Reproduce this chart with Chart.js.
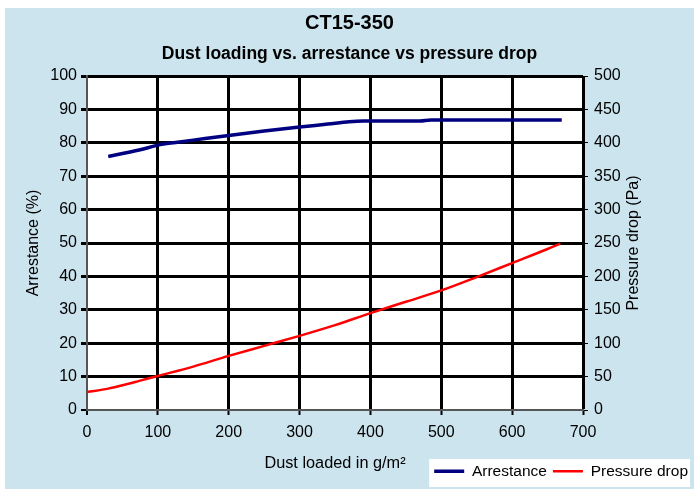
<!DOCTYPE html>
<html><head><meta charset="utf-8">
<script src="https://cdn.jsdelivr.net/npm/chart.js@4.4.1/dist/chart.umd.min.js"></script>
<style>html,body{margin:0;padding:0;background:#fff;}canvas{display:block;}</style>
</head><body>
<canvas id="c" width="694" height="489"></canvas>
<script>
// ---- data ----
const dustArrestance = [30, 50, 75, 100, 125, 150, 200, 250, 300, 340, 370, 390, 470, 485, 670];
const arrestance     = [75.9, 76.8, 77.9, 79.3, 80.1, 80.8, 82.2, 83.5, 84.7, 85.6, 86.3, 86.5, 86.5, 86.8, 86.8];
const dustPressure   = [0, 30, 50, 75, 100, 150, 200, 250, 300, 350, 400, 450, 500, 550, 600, 650, 668];
const pressureDrop   = [27, 32, 37, 44, 51, 65, 81, 96, 111, 127, 145, 162, 179, 199, 220, 241, 249];
const seriesNames    = ['Arrestance', 'Pressure drop'];
const chartTitle     = 'CT15-350';
const chartSubtitle  = 'Dust loading vs. arrestance vs pressure drop';
const xTitle         = 'Dust loaded in g/m\u00B2';
const yTitle         = 'Arrestance (%)';
const y1Title        = 'Pressure drop (Pa)';

const FONT = '"Liberation Sans", Arial, sans-serif';

const bgPlugin = {
  id: 'bg',
  beforeDraw(chart) {
    const ctx = chart.ctx, a = chart.chartArea;
    ctx.save();
    ctx.fillStyle = '#ffffff'; ctx.fillRect(0, 0, chart.width, chart.height);
    ctx.fillStyle = '#CCE4EE'; ctx.fillRect(5, 8, chart.width - 5, chart.height - 8);
    ctx.fillStyle = '#ffffff'; ctx.fillRect(a.left, a.top, a.right - a.left, a.bottom - a.top);
    const lg = chart.legend;
    if (lg && lg.legendHitBoxes && lg.legendHitBoxes.length) {
      const hb = lg.legendHitBoxes;
      const l = hb[0].left - 5;
      const r = hb[hb.length - 1].left + hb[hb.length - 1].width + 2;
      ctx.fillRect(l, lg.top + 1.5, r - l, 28);
    }
    ctx.restore();
  },
  afterDraw(chart) {
    const ctx = chart.ctx, a = chart.chartArea;
    ctx.save();
    ctx.translate(634, (a.top + a.bottom) / 2);
    ctx.rotate(-Math.PI / 2);
    ctx.font = '16px ' + FONT;
    ctx.fillStyle = '#000';
    ctx.textAlign = 'center';
    ctx.textBaseline = 'middle';
    ctx.fillText(y1Title, 0, 0);
    ctx.restore();
  }
};

new Chart(document.getElementById('c'), {
  type: 'line',
  data: {
    datasets: [
      {
        label: seriesNames[0],
        data: dustArrestance.map((x, i) => ({x: x, y: arrestance[i]})),
        yAxisID: 'y',
        borderColor: '#000080',
        backgroundColor: '#000080',
        borderWidth: 3.5,
        pointRadius: 0,
        tension: 0.3,
        cubicInterpolationMode: 'monotone'
      },
      {
        label: seriesNames[1],
        data: dustPressure.map((x, i) => ({x: x, y: pressureDrop[i]})),
        yAxisID: 'y1',
        borderColor: '#FF0000',
        backgroundColor: '#FF0000',
        borderWidth: 2.5,
        pointRadius: 0,
        tension: 0.3,
        cubicInterpolationMode: 'monotone'
      }
    ]
  },
  options: {
    responsive: false,
    animation: false,
    devicePixelRatio: 1,
    layout: { padding: { top: 8, left: 5, right: 0, bottom: 0 } },
    plugins: {
      title: {
        display: true, text: chartTitle, color: '#000',
        font: { family: FONT, size: 20, weight: 'bold' },
        padding: { top: 3, bottom: 4 }
      },
      subtitle: {
        display: true, text: chartSubtitle, color: '#000',
        font: { family: FONT, size: 17.5, weight: 'bold' },
        padding: { top: 4.5, bottom: 11.5 }
      },
      legend: {
        display: true, position: 'bottom', align: 'end',
        labels: {
          usePointStyle: true, pointStyle: 'line', pointStyleWidth: 30,
          color: '#000', padding: 6,
          font: { family: FONT, size: 15.5 }
        }
      },
      tooltip: { enabled: false }
    },
    scales: {
      x: {
        type: 'linear', position: 'bottom', min: 0, max: 700,
        afterFit: s => { s.height = 47.5; },
        ticks: { stepSize: 100, color: '#000', padding: 8, font: { family: FONT, size: 16 } },
        grid: {
          color: c => c.index === 0 ? '#555' : '#000',
          lineWidth: c => c.index === 0 ? 2 : 3,
          tickColor: '#000', tickWidth: 2, tickLength: 5
        },
        border: { display: true, color: '#555', width: 2 },
        title: {
          display: true, text: xTitle, color: '#000',
          font: { family: FONT, size: 16.3 }, padding: { top: 0, bottom: -16 }
        }
      },
      y: {
        type: 'linear', position: 'left', min: 0, max: 100,
        afterFit: s => { s.width = 82; },
        ticks: { stepSize: 10, color: '#000', padding: 4, font: { family: FONT, size: 16 } },
        grid: {
          color: c => c.index === 0 ? '#555' : '#000',
          lineWidth: c => c.index === 0 ? 2 : 3,
          tickColor: '#000', tickLength: 6
        },
        border: { display: true, color: '#555', width: 2 },
        title: {
          display: true, text: yTitle, color: '#000',
          font: { family: FONT, size: 16 }, padding: { top: 19, bottom: 0 }
        }
      },
      y1: {
        type: 'linear', position: 'right', min: 0, max: 500,
        afterFit: s => { s.width = 111; },
        ticks: { stepSize: 50, color: '#000', padding: 6, font: { family: FONT, size: 16 } },
        grid: { drawOnChartArea: false, color: '#000', lineWidth: 1, tickLength: 5 },
        border: { display: false }
      }
    }
  },
  plugins: [bgPlugin]
});
</script>
</body></html>
